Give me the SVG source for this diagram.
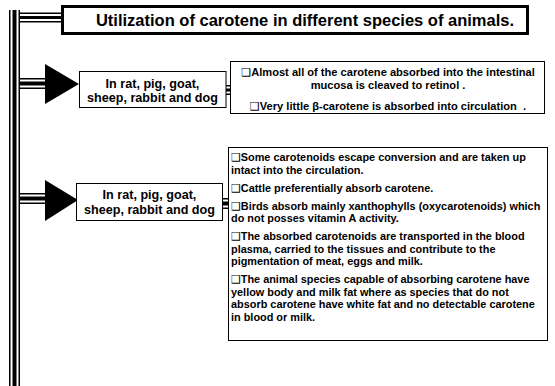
<svg xmlns="http://www.w3.org/2000/svg" width="555" height="386" viewBox="0 0 555 386">
<style>
.k{fill:#000}
.w{fill:#fff}
.box{fill:#fff;stroke:#000;stroke-width:1}
.title{fill:#fff;stroke:#000;stroke-width:3}
text{font-family:"Liberation Sans",Arial,"DejaVu Sans",sans-serif;font-weight:bold;fill:#000}
.t{font-size:16.5px}
.m{font-size:12.6px}
.s{font-size:11.1px}
.b{font-size:10.9px}
</style>
<rect width="555" height="386" fill="#fff"/>
<g id="connectors">
  <rect class="k" x="9" y="10" width="11" height="376"/>
  <rect class="w" x="10.5" y="10" width="8" height="376"/>
  <rect class="k" x="12.5" y="10" width="4" height="376"/>
  <rect class="k" x="20" y="12.5" width="42" height="10"/>
  <rect class="w" x="20" y="14" width="42" height="7"/>
  <rect class="k" x="20" y="16" width="42" height="3"/>
  <rect class="k" x="20" y="78" width="26" height="11"/>
  <rect class="w" x="20" y="79.5" width="26" height="8"/>
  <rect class="k" x="20" y="81.5" width="26" height="4"/>
  <polygon class="k" points="45,64 79,84 45,104"/>
  <rect class="k" x="20" y="193" width="26" height="11"/>
  <rect class="w" x="20" y="194.5" width="26" height="8"/>
  <rect class="k" x="20" y="196.5" width="26" height="4"/>
  <polygon class="k" points="45,180 78,200 45,221"/>
  <rect class="k" x="226" y="85" width="4" height="10"/>
  <rect class="w" x="226" y="86.5" width="4" height="7"/>
  <rect class="k" x="226" y="88.5" width="4" height="3"/>
  <rect class="k" x="222" y="198" width="6" height="11"/>
  <rect class="w" x="222" y="199.5" width="6" height="8"/>
  <rect class="k" x="222" y="201.5" width="6" height="4"/>
</g>
<g id="title">
  <rect class="title" x="62.5" y="6.5" width="465" height="27"/>
  <text class="t" x="305" y="26" text-anchor="middle">Utilization of carotene in different species of animals.</text>
</g>
<g id="node-species-1">
  <rect class="box" x="79.5" y="71.5" width="146.5" height="36"/>
  <text class="m" x="152.5" y="87.5" text-anchor="middle">In rat, pig, goat,</text>
  <text class="m" x="152.5" y="102" text-anchor="middle">sheep, rabbit and dog</text>
</g>
<g id="node-facts-1">
  <rect class="box" x="230.5" y="61.5" width="314" height="52"/>
  <text class="s" x="388" y="76" text-anchor="middle">❑Almost all of the carotene absorbed into the intestinal</text>
  <text class="s" x="388" y="88.5" text-anchor="middle">mucosa is cleaved to retinol .</text>
  <text class="s" x="388" y="109.5" text-anchor="middle" xml:space="preserve">❑Very little β-carotene is absorbed into circulation  .</text>
</g>
<g id="node-species-2">
  <rect class="box" x="76.5" y="183.5" width="146" height="37"/>
  <text class="m" x="149.5" y="198.5" text-anchor="middle">In rat, pig, goat,</text>
  <text class="m" x="149.5" y="213.5" text-anchor="middle">sheep, rabbit and dog</text>
</g>
<g id="node-facts-2">
  <rect class="box" x="228.5" y="147.5" width="319" height="193"/>
  <text class="b" x="231" y="161">❑Some carotenoids escape conversion and are taken up</text>
  <text class="b" x="231" y="173.5">intact into the circulation.</text>
  <text class="b" x="231" y="191.5">❑Cattle preferentially absorb carotene.</text>
  <text class="b" x="231" y="209.5">❑Birds absorb mainly xanthophylls (oxycarotenoids) which</text>
  <text class="b" x="231" y="222">do not posses vitamin A activity.</text>
  <text class="b" x="231" y="240">❑The absorbed carotenoids are transported in the blood</text>
  <text class="b" x="231" y="252.5">plasma, carried to the tissues and contribute to the</text>
  <text class="b" x="231" y="265">pigmentation of meat, eggs and milk.</text>
  <text class="b" x="231" y="283">❑The animal species capable of absorbing carotene have</text>
  <text class="b" x="231" y="295.5">yellow body and milk fat where as species that do not</text>
  <text class="b" x="231" y="308">absorb carotene have white fat and no detectable carotene</text>
  <text class="b" x="231" y="320.5">in blood or milk.</text>
</g>
</svg>
